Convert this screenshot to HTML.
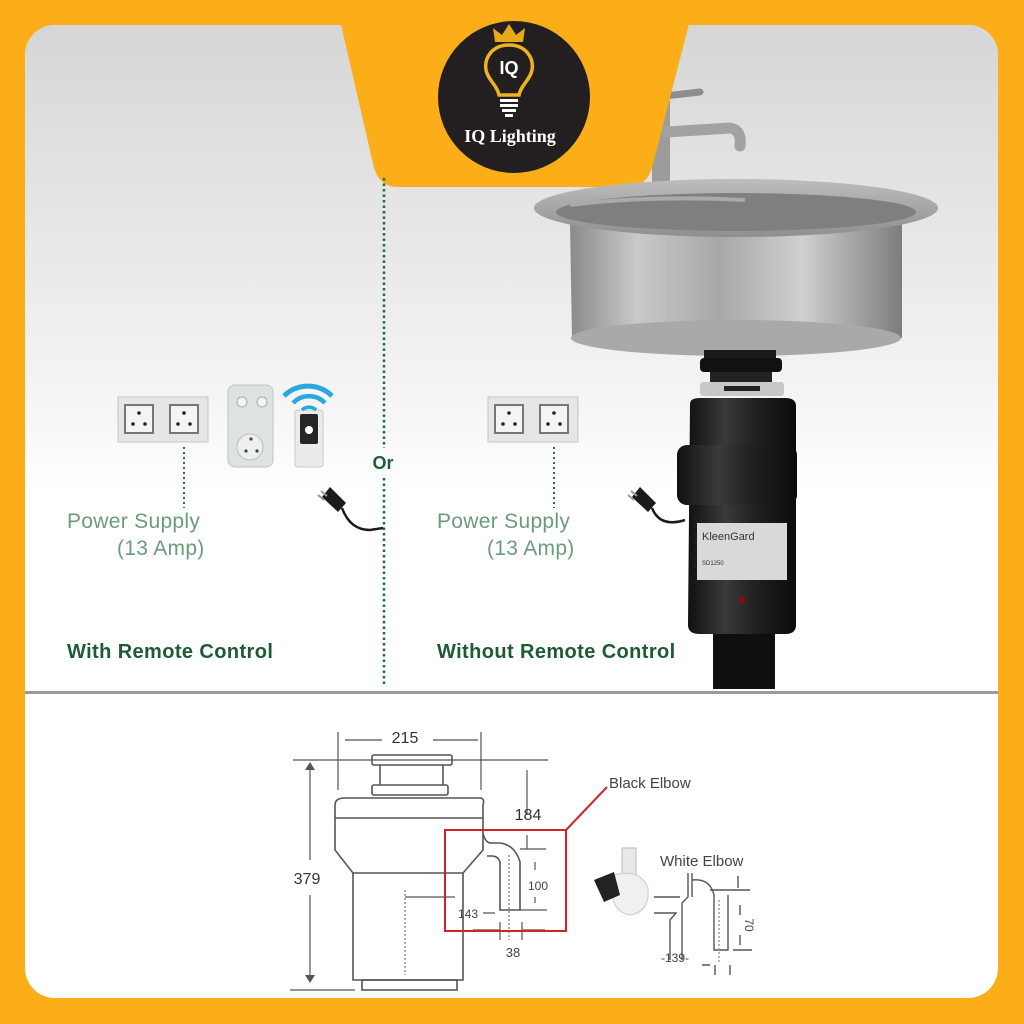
<!DOCTYPE html>
<html><head><meta charset="utf-8"><style>
html,body{margin:0;padding:0;width:1024px;height:1024px;overflow:hidden;background:#FBAE17;}
svg{display:block}
</style></head><body>
<svg width="1024" height="1024" viewBox="0 0 1024 1024" xmlns="http://www.w3.org/2000/svg" font-family="Liberation Sans, sans-serif">
<defs>
<linearGradient id="bg" x1="0" y1="0" x2="0" y2="1">
<stop offset="0" stop-color="#d6d6d6"/><stop offset="0.55" stop-color="#f4f4f4"/><stop offset="0.7" stop-color="#ffffff"/><stop offset="1" stop-color="#ffffff"/>
</linearGradient>
<linearGradient id="steel" x1="0" y1="0" x2="1" y2="0">
<stop offset="0" stop-color="#8a8a8a"/><stop offset="0.2" stop-color="#c9c9c9"/><stop offset="0.45" stop-color="#a8a8a8"/><stop offset="0.7" stop-color="#cfcfcf"/><stop offset="1" stop-color="#7d7d7d"/>
</linearGradient>
<linearGradient id="rim" x1="0" y1="0" x2="0" y2="1">
<stop offset="0" stop-color="#bdbdbd"/><stop offset="1" stop-color="#8f8f8f"/>
</linearGradient>
<linearGradient id="blk" x1="0" y1="0" x2="1" y2="0">
<stop offset="0" stop-color="#111"/><stop offset="0.35" stop-color="#3a3a3a"/><stop offset="0.6" stop-color="#222"/><stop offset="1" stop-color="#0b0b0b"/>
</linearGradient>
</defs>
<rect x="0" y="0" width="1024" height="1024" fill="#FBAE17"/>
<rect x="25" y="25" width="973" height="973" rx="30" fill="#ffffff"/>
<path d="M55 25 H968 A30 30 0 0 1 998 55 V692 H25 V55 A30 30 0 0 1 55 25 Z" fill="url(#bg)"/>
<rect x="25" y="691" width="973" height="3" fill="#9a9a9a"/>

<!-- faucet -->
<rect x="652" y="100" width="18" height="90" fill="#9c9c9c"/>
<path d="M665 96 L700 92" stroke="#8e8e8e" stroke-width="7" stroke-linecap="round"/>
<path d="M666 132 L730 128 Q742 130 740 146" fill="none" stroke="#a2a2a2" stroke-width="11" stroke-linecap="round"/>

<!-- orange tab -->
<path d="M340 20 H690 L652 168 Q646 187 628 187 H398 Q380 187 374 168 Z" fill="#FBAE17"/>
<circle cx="514" cy="97" r="76" fill="#231f20"/>
<path d="M495 42 L493 28 L502 35 L509 24 L516 35 L525 28 L523 42 Z" fill="#e6a91a"/>
<path d="M509 45 C492 45 484 58 486 70 C488 80 497 85 499 95 H519 C521 85 530 80 532 70 C534 58 526 45 509 45 Z" fill="none" stroke="#f0b220" stroke-width="3.5"/>
<text x="509" y="74" font-size="18" font-weight="bold" fill="#fff" text-anchor="middle">IQ</text>
<rect x="500" y="99" width="18" height="3" fill="#fff"/><rect x="500" y="104" width="18" height="3" fill="#fff"/><rect x="502" y="109" width="14" height="3" fill="#fff"/><rect x="505" y="114" width="8" height="3" fill="#fff"/>
<text x="510" y="142" font-family="Liberation Serif, serif" font-size="18" font-weight="bold" fill="#fff" text-anchor="middle">IQ Lighting</text>

<!-- dotted divider -->
<line x1="384" y1="178" x2="384" y2="448" stroke="#1f6b3c" stroke-width="2.5" stroke-dasharray="2.5 3"/>
<line x1="384" y1="478" x2="384" y2="686" stroke="#1f6b3c" stroke-width="2.5" stroke-dasharray="2.5 3"/>
<text x="383" y="469" font-size="18" font-weight="bold" fill="#1f5e36" text-anchor="middle">Or</text>

<!-- left outlets -->
<g>
<rect x="118" y="397" width="90" height="45" fill="#e6e6e6" stroke="#c4c4c4"/>
<rect x="125" y="405" width="28" height="28" fill="#f4f4f4" stroke="#777" stroke-width="2"/>
<rect x="170" y="405" width="28" height="28" fill="#f4f4f4" stroke="#777" stroke-width="2"/>
<circle cx="139" cy="413" r="1.8" fill="#222"/><circle cx="133" cy="424" r="1.8" fill="#222"/><circle cx="145" cy="424" r="1.8" fill="#222"/>
<circle cx="184" cy="413" r="1.8" fill="#222"/><circle cx="178" cy="424" r="1.8" fill="#222"/><circle cx="190" cy="424" r="1.8" fill="#222"/>
</g>
<line x1="184" y1="447" x2="184" y2="508" stroke="#2d7048" stroke-width="2" stroke-dasharray="2 3"/>
<rect x="228" y="385" width="45" height="82" rx="7" fill="#dfe3df" stroke="#bfc4bf"/>
<circle cx="242" cy="402" r="5" fill="#f4f4f4" stroke="#aaa"/><circle cx="262" cy="402" r="5" fill="#f4f4f4" stroke="#aaa"/>
<circle cx="250" cy="447" r="13" fill="#eef0ee" stroke="#bbb"/>
<circle cx="251" cy="439" r="1.6" fill="#444"/><circle cx="246" cy="451" r="1.6" fill="#444"/><circle cx="257" cy="451" r="1.6" fill="#444"/>
<rect x="295" y="410" width="28" height="57" rx="3" fill="#e9ece9" stroke="#c9c9c9"/>
<rect x="300" y="414" width="18" height="30" rx="2" fill="#262626"/>
<circle cx="309" cy="430" r="4" fill="#fff"/>
<path d="M284 396 A34 34 0 0 1 332 396" fill="none" stroke="#29a7e1" stroke-width="5"/>
<path d="M293 403 A22 22 0 0 1 325 403" fill="none" stroke="#29a7e1" stroke-width="4.5"/>
<path d="M302 410 A10 10 0 0 1 316 410" fill="none" stroke="#29a7e1" stroke-width="3.5"/>
<path d="M330 487 L346 503 L338 512 L322 497 Z" fill="#1b1b1b"/>
<path d="M342 508 Q350 530 370 530 L383 528" fill="none" stroke="#1b1b1b" stroke-width="2.5"/>
<path d="M318 495 L324 500 M321 491 L327 496" stroke="#999" stroke-width="2"/>

<text x="67" y="528" font-size="21" letter-spacing="0.3" fill="#6b9b7d">Power Supply</text>
<text x="117" y="555" font-size="21" letter-spacing="0.3" fill="#6b9b7d">(13 Amp)</text>
<text x="67" y="658" font-size="20" font-weight="bold" letter-spacing="0.4" fill="#1f5a36">With Remote Control</text>

<!-- right outlets -->
<g transform="translate(370,0)">
<rect x="118" y="397" width="90" height="45" fill="#e6e6e6" stroke="#c4c4c4"/>
<rect x="125" y="405" width="28" height="28" fill="#f4f4f4" stroke="#777" stroke-width="2"/>
<rect x="170" y="405" width="28" height="28" fill="#f4f4f4" stroke="#777" stroke-width="2"/>
<circle cx="139" cy="413" r="1.8" fill="#222"/><circle cx="133" cy="424" r="1.8" fill="#222"/><circle cx="145" cy="424" r="1.8" fill="#222"/>
<circle cx="184" cy="413" r="1.8" fill="#222"/><circle cx="178" cy="424" r="1.8" fill="#222"/><circle cx="190" cy="424" r="1.8" fill="#222"/>
</g>
<line x1="554" y1="447" x2="554" y2="508" stroke="#2d7048" stroke-width="2" stroke-dasharray="2 3"/>
<text x="437" y="528" font-size="21" letter-spacing="0.3" fill="#6b9b7d">Power Supply</text>
<text x="487" y="555" font-size="21" letter-spacing="0.3" fill="#6b9b7d">(13 Amp)</text>
<text x="437" y="658" font-size="20" font-weight="bold" letter-spacing="0.4" fill="#1f5a36">Without Remote Control</text>

<!-- sink -->
<path d="M570 222 L572 338 Q736 372 902 338 L902 222 Z" fill="url(#steel)"/>
<ellipse cx="736" cy="338" rx="165" ry="18" fill="#a9a9a9"/>
<ellipse cx="736" cy="208" rx="202" ry="29" fill="url(#rim)"/>
<ellipse cx="736" cy="212" rx="180" ry="19" fill="#7f7f7f"/>
<path d="M570 205 Q650 195 745 200" fill="none" stroke="#aaa" stroke-width="4"/>
<!-- disposer -->
<rect x="704" y="350" width="72" height="14" fill="#1a1a1a"/>
<rect x="700" y="358" width="82" height="14" rx="4" fill="#111"/>
<rect x="710" y="372" width="62" height="10" fill="#222"/>
<rect x="700" y="382" width="84" height="14" rx="3" fill="#c8c8c8"/>
<rect x="724" y="386" width="36" height="5" fill="#222"/>
<path d="M690 404 Q690 398 700 398 H785 Q796 398 796 406 L796 625 Q796 634 785 634 H700 Q688 634 688 625 Z" fill="url(#blk)"/>
<rect x="677" y="445" width="120" height="60" rx="10" fill="url(#blk)"/>
<rect x="697" y="523" width="90" height="57" fill="#d9d9d9"/>
<text x="702" y="540" font-size="11" fill="#333">KleenGard</text>
<text x="702" y="565" font-size="6" fill="#333">SD1250</text>
<circle cx="742" cy="600" r="3" fill="#a00"/>
<rect x="713" y="634" width="62" height="55" fill="#0f0f0f"/>
<path d="M640 487 L656 503 L648 512 L632 497 Z" fill="#1b1b1b"/>
<path d="M652 508 Q660 528 685 520" fill="none" stroke="#1b1b1b" stroke-width="2.5"/>
<path d="M628 495 L634 500 M631 491 L637 496" stroke="#999" stroke-width="2"/>

<!-- bottom technical drawing -->
<g fill="none" stroke="#555" stroke-width="1.6">
<rect x="372" y="755" width="80" height="10" rx="2"/>
<path d="M380 765 V785 M443 765 V785"/>
<rect x="372" y="785" width="76" height="10" rx="2"/>
<path d="M345 798 H480 Q485 798 483 805 V850 L463 873 H353 L335 850 V805 Q335 798 345 798 Z"/>
<path d="M335 818 H483"/>
<path d="M353 873 V980 H463 V873"/>
<rect x="362" y="980" width="95" height="10"/>
<path d="M483 833 Q485 842 490 843 H500 Q515 845 520 862 V910 H500 V862 Q498 856 492 856 L487 856"/>
<path d="M338 732 V790 M481 732 V790" stroke-width="1.2"/>
<path d="M345 740 H382 M433 740 H478" stroke-width="1.2"/>
<path d="M293 760 H548" stroke-width="1.2"/>
<path d="M290 990 H355" stroke-width="1.2"/>
<path d="M310 765 V860 M310 895 V980" stroke-width="1.2"/>
<path d="M527 770 V815 M527 835 V849" stroke-width="1.2"/>
<path d="M520 849 H546 M520 910 H547" stroke-width="1.2"/>
<path d="M535 862 V870 M535 897 V903" stroke-width="1.2"/>
<path d="M405 897 H455 M483 913 H495" stroke-width="1.2"/>
<path d="M473 930 H500 M522 930 H545 M500 922 V940 M522 922 V940" stroke-width="1.2"/>
<path d="M405 890 V975 M509 855 V940" stroke-dasharray="2 2" stroke="#999"/>
</g>
<path d="M305 770 L310 762 L315 770 M305 975 L310 983 L315 975" fill="#555"/>
<text x="405" y="743" font-size="16" fill="#333" text-anchor="middle">215</text>
<text x="307" y="884" font-size="16" fill="#333" text-anchor="middle">379</text>
<text x="528" y="820" font-size="16" fill="#333" text-anchor="middle">184</text>
<text x="538" y="890" font-size="12" fill="#444" text-anchor="middle">100</text>
<text x="468" y="918" font-size="12" fill="#444" text-anchor="middle">143</text>
<text x="513" y="957" font-size="13" fill="#444" text-anchor="middle">38</text>
<rect x="445" y="830" width="121" height="101" fill="none" stroke="#d2232a" stroke-width="2"/>
<path d="M566 830 L607 787" stroke="#d2232a" stroke-width="2"/>
<text x="609" y="788" font-size="15" fill="#444">Black Elbow</text>
<rect x="622" y="848" width="14" height="30" fill="#e8e8e8" stroke="#bbb"/>
<path d="M614 875 Q640 868 648 888 Q650 912 630 915 Q612 912 612 890 Z" fill="#f0f0f0" stroke="#ccc"/>
<path d="M594 880 L614 872 L620 895 L604 902 Z" fill="#222"/>
<text x="660" y="866" font-size="15" fill="#444">White Elbow</text>
<g fill="none" stroke="#555" stroke-width="1.4">
<path d="M688 873 V897 L682 903 V960 M692 873 V897"/>
<path d="M654 897 H680 M654 913 H676 L670 920 V960"/>
<path d="M692 880 Q710 878 714 895 V950 H728 V895"/>
<path d="M710 890 H750 M733 950 H752 M738 876 V888 M740 905 V915 M740 935 V945"/>
<path d="M702 965 H710 M715 965 V975 M730 965 V975"/>
<path d="M719 900 V962" stroke-dasharray="2 2" stroke="#999"/>
</g>
<text x="745" y="925" font-size="12" fill="#444" transform="rotate(90 745 925)" text-anchor="middle">70</text>
<text x="675" y="962" font-size="12" fill="#444" text-anchor="middle">-139-</text>
</svg>
</body></html>
